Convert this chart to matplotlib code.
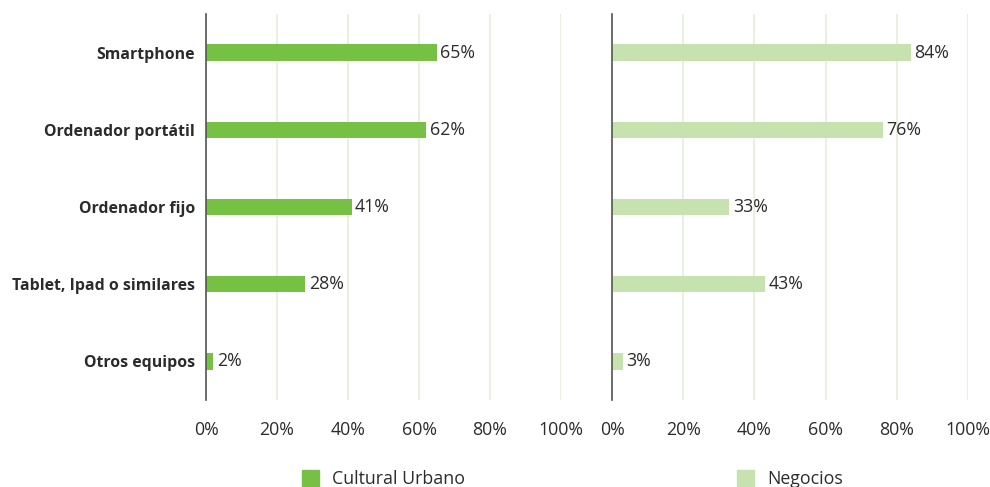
import numpy as np
import matplotlib.pyplot as plt
from matplotlib.patches import Patch

plt.rcParams['font.family'] = ['Open Sans', 'DejaVu Sans']

# Equipos usados por tipo de viajero
categorias = ["Smartphone", "Ordenador portátil", "Ordenador fijo",
              "Tablet, Ipad o similares", "Otros equipos"]
cultural_urbano = [65, 62, 41, 28, 2]
negocios = [84, 76, 33, 43, 3]
ticks = [0, 20, 40, 60, 80, 100]

color_cu = "#76c043"
color_neg = "#c6e2ae"
color_grid = "#e4eed8"
color_txt = "#2b2b2b"
fs = 12.8

fig = plt.figure(figsize=(9.9, 4.87), dpi=100)
ax1 = fig.add_axes([0.2081, 0.1786, 0.3586, 0.7927])
ax2 = fig.add_axes([0.6182, 0.1786, 0.3596, 0.7927])

y = np.arange(len(categorias))

def panel(ax, valores, color, nombre):
    ax.barh(y, valores, height=0.21, color=color, zorder=3)
    for yi, v in zip(y, valores):
        ax.text(v + 1.0, yi, f"{v}%", va="center", ha="left",
                fontsize=fs, color=color_txt)
    ax.set_xlim(0, 100)
    ax.set_ylim(len(categorias) - 0.5, -0.5)
    ax.set_xticks(ticks)
    ax.set_xticklabels([f"{t}%" for t in ticks], fontsize=fs, color=color_txt)
    ax.tick_params(axis="x", length=0, pad=15)
    ax.grid(axis="x", color=color_grid, linewidth=1.2, zorder=0)
    for s in ["top", "right", "bottom"]:
        ax.spines[s].set_visible(False)
    ax.spines["left"].set_color("#555555")
    ax.spines["left"].set_linewidth(1.2)
    ax.spines["left"].set_zorder(4)
    ax.legend(handles=[Patch(color=color, label=nombre)], loc="upper center",
              bbox_to_anchor=(0.5, -0.14), frameon=False, fontsize=fs,
              handlelength=0.95, handleheight=0.95, handletextpad=0.7,
              labelcolor=color_txt)

panel(ax1, cultural_urbano, color_cu, "Cultural Urbano")
panel(ax2, negocios, color_neg, "Negocios")

ax1.set_yticks(y)
ax1.set_yticklabels(categorias, fontsize=11.4, fontweight="bold", color=color_txt)
ax1.tick_params(axis="y", length=0, pad=8)
ax2.set_yticks([])

fig.savefig("out.png", dpi=100)
